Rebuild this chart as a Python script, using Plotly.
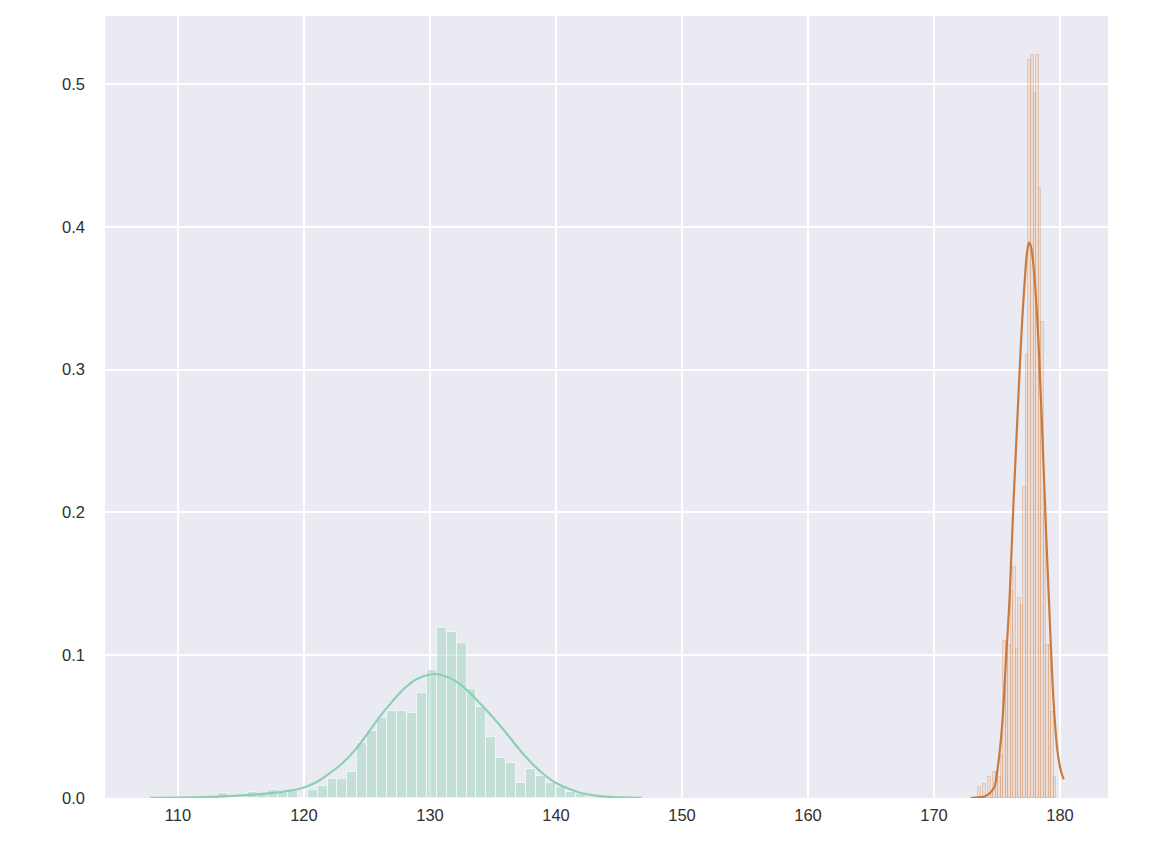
import numpy as np
import plotly.graph_objects as go

# ---- green distribution: histogram (density) ----
green_bin_start = 113.2
green_bin_width = 0.788
green_heights = [0.0033, 0.0, 0.0, 0.0042, 0.0028, 0.0054, 0.0033, 0.0049, 0.0,
                 0.0056, 0.0082, 0.013, 0.013, 0.018, 0.0383, 0.0471, 0.0558,
                 0.0609, 0.0609, 0.0595, 0.0735, 0.0896, 0.1188, 0.1162, 0.1088,
                 0.0761, 0.0635, 0.0429, 0.0282, 0.0243, 0.0107, 0.0203, 0.0154,
                 0.0103, 0.0075, 0.004, 0.0028]

# ---- green KDE ----
green_kde_x = [107.8, 110, 112, 114, 116, 118, 119, 120, 121, 122, 123, 124, 125,
               126, 127, 128, 129, 130, 130.5, 131, 132, 133, 134, 135, 136, 137,
               138, 139, 140, 141, 142, 143, 144, 145, 146.8]
green_kde_y = [0.0001, 0.0002, 0.0006, 0.0013, 0.0024, 0.0040, 0.0053, 0.0074,
               0.0112, 0.0170, 0.0240, 0.0330, 0.0445, 0.0568, 0.0675, 0.0770,
               0.0835, 0.0865, 0.0868, 0.0860, 0.0820, 0.0750, 0.0660, 0.0565,
               0.0460, 0.0350, 0.0250, 0.0168, 0.0105, 0.0065, 0.0035, 0.0018,
               0.0009, 0.0004, 0.0001]

# ---- orange distribution: histogram (density) ----
orange_bin_start = 173.5
orange_bin_width = 0.2
orange_heights = [0.008, 0.0, 0.010, 0.0, 0.015, 0.005, 0.018, 0.018, 0.015, 0.03,
                  0.11, 0.11, 0.107, 0.145, 0.162, 0.104, 0.14, 0.135, 0.218, 0.31,
                  0.517, 0.52, 0.494, 0.52, 0.427, 0.333, 0.2, 0.107, 0.107, 0.06,
                  0.015]

# ---- orange KDE ----
orange_kde_x = [172.9, 173.5, 174.0, 174.5, 174.8, 175.1, 175.4, 175.7, 176.0, 176.3,
                176.6, 176.9, 177.2, 177.4, 177.55, 177.7, 178.0, 178.3, 178.6,
                178.9, 179.2, 179.5, 179.8, 180.1, 180.3]
orange_kde_y = [0.0, 0.0005, 0.001, 0.004, 0.008, 0.024, 0.050, 0.095, 0.140, 0.205,
                0.262, 0.318, 0.362, 0.383, 0.389, 0.386, 0.362, 0.318, 0.255,
                0.185, 0.122, 0.066, 0.033, 0.018, 0.013]

x_ticks = [110, 120, 130, 140, 150, 160, 170, 180]
y_ticks = [0.0, 0.1, 0.2, 0.3, 0.4, 0.5]
y_tick_labels = ["0.0", "0.1", "0.2", "0.3", "0.4", "0.5"]

green_centers = green_bin_start + green_bin_width * (np.arange(len(green_heights)) + 0.5)
orange_centers = orange_bin_start + orange_bin_width * (np.arange(len(orange_heights)) + 0.5)

fig = go.Figure()
fig.add_trace(go.Bar(
    x=green_centers, y=green_heights, width=green_bin_width,
    marker=dict(color="rgba(141,207,181,0.42)", line=dict(color="rgba(255,255,255,0.6)", width=1)),
    showlegend=False, hoverinfo="x+y"))
fig.add_trace(go.Scatter(
    x=green_kde_x, y=green_kde_y, mode="lines", line=dict(color="#8dcfb5", width=2.2, shape="spline"),
    showlegend=False))
fig.add_trace(go.Bar(
    x=orange_centers, y=orange_heights, width=orange_bin_width,
    marker=dict(color="rgba(238,180,135,0.25)", line=dict(color="rgba(210,135,80,0.30)", width=1)),
    showlegend=False, hoverinfo="x+y"))
fig.add_trace(go.Scatter(
    x=orange_kde_x, y=orange_kde_y, mode="lines", line=dict(color="#c97a3e", width=2.2, shape="spline"),
    showlegend=False))

font = dict(family="Liberation Sans, Arial, sans-serif", size=16.5, color="#303030")
fig.update_layout(
    width=1156, height=844,
    margin=dict(l=97, r=56, t=8, b=54),
    paper_bgcolor="white", plot_bgcolor="#eaeaf2",
    barmode="overlay", bargap=0,
    font=font,
    xaxis=dict(range=[104.21, 183.81], tickvals=x_ticks, showgrid=True, gridcolor="white",
               gridwidth=1.6, zeroline=False, showline=False, ticks="", ticklabelstandoff=5,
               tickfont=font),
    yaxis=dict(range=[0, 0.5476], tickvals=y_ticks, ticktext=y_tick_labels, showgrid=True,
               gridcolor="white", gridwidth=1.6, zeroline=False, showline=False, ticks="",
               ticklabelstandoff=19, tickfont=font),
)
fig.write_html("out.html")
